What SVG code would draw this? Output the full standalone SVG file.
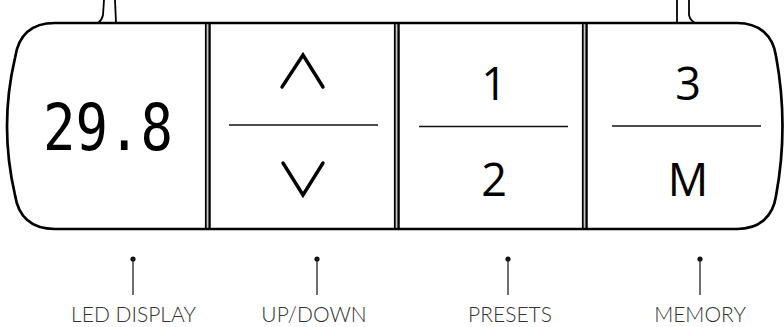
<svg xmlns="http://www.w3.org/2000/svg" width="784" height="327" viewBox="0 0 784 327">
<style>
.outline{fill:none;stroke:#000;stroke-width:2.7}
.cable{fill:none;stroke:#000;stroke-width:1.8}
.div-b{stroke:#000}
.gap{fill:#c8c8c8}
.sep{stroke:#111;stroke-width:1.3}
.chev{fill:none;stroke:#000;stroke-width:3.4;stroke-linecap:round;stroke-linejoin:miter}
.key{font-family:"Open Sans","Noto Sans",sans-serif;font-size:45px;fill:#000;text-anchor:middle}
.led{font-family:"DejaVu Sans Mono",monospace;font-size:54px;fill:#000}
.lab{font-family:Lato,"Liberation Sans",sans-serif;font-weight:300;font-size:21px;fill:#333;text-anchor:middle}
.lead{stroke:#222;stroke-width:1.3}
.dot{fill:#111}
</style>
<rect width="784" height="327" fill="#fff"/>
<g id="cables">
<path class="cable" d="M104 0 L103 15 Q102 20 98 23"/>
<line class="cable" x1="115" y1="0" x2="116" y2="23"/>
<line class="cable" x1="677" y1="0" x2="677" y2="23"/>
<path class="cable" d="M689 0 L689 15 Q690 20 695 23"/>
</g>
<g id="led-display">
<path class="outline" d="M205 23 L55 23 C30 23 18 37 15 58 Q-1 126 15 195 C18 215 30 229 55 229 L205 229"/>
<text class="led" transform="translate(43 150) scale(1 1.19)">29.8</text>
</g>
<g id="dividers">
<rect class="gap" x="206.5" y="23" width="2.5" height="206"/>
<line class="div-b" x1="205.8" y1="23" x2="205.8" y2="229" stroke-width="1.8"/>
<line class="div-b" x1="209.6" y1="23" x2="209.6" y2="229" stroke-width="2.3"/>
<rect class="gap" x="395.5" y="23" width="2.5" height="206"/>
<line class="div-b" x1="394.8" y1="23" x2="394.8" y2="229" stroke-width="1.8"/>
<line class="div-b" x1="398.6" y1="23" x2="398.6" y2="229" stroke-width="2.3"/>
<rect class="gap" x="583.5" y="23" width="2.5" height="206"/>
<line class="div-b" x1="582.8" y1="23" x2="582.8" y2="229" stroke-width="1.8"/>
<line class="div-b" x1="586.6" y1="23" x2="586.6" y2="229" stroke-width="2.3"/>
</g>
<g id="up-down">
<line class="outline" x1="205" y1="23" x2="395" y2="23"/>
<line class="outline" x1="205" y1="229" x2="395" y2="229"/>
<polyline class="chev" points="282,87 303,55 323,87"/>
<line class="sep" x1="229" y1="125" x2="378" y2="125"/>
<polyline class="chev" points="283,163 303,195 323,163"/>
</g>
<g id="presets">
<line class="outline" x1="395" y1="23" x2="583" y2="23"/>
<line class="outline" x1="395" y1="229" x2="583" y2="229"/>
<text class="key" x="494" y="100">1</text>
<line class="sep" x1="419" y1="126.5" x2="568" y2="126.5"/>
<text class="key" x="494" y="196">2</text>
</g>
<g id="memory">
<path class="outline" d="M583 23 L737 23 C760 23 773 36 776 56 Q789 126 776 196 C773 216 760 229 737 229 L583 229"/>
<text class="key" x="688" y="100">3</text>
<line class="sep" x1="612" y1="126" x2="761" y2="126"/>
<text class="key" x="688" y="196">M</text>
</g>
<g id="connectors">
<circle class="dot" cx="133" cy="259" r="2.6"/>
<line class="lead" x1="133" y1="259" x2="133" y2="295"/>
<circle class="dot" cx="317" cy="259" r="2.6"/>
<line class="lead" x1="317" y1="259" x2="317" y2="295"/>
<circle class="dot" cx="508" cy="259" r="2.6"/>
<line class="lead" x1="508" y1="259" x2="508" y2="295"/>
<circle class="dot" cx="700" cy="259" r="2.6"/>
<line class="lead" x1="700" y1="259" x2="700" y2="295"/>
</g>
<g id="labels">
<text class="lab" x="133.5" y="322">LED DISPLAY</text>
<text class="lab" x="314" y="322">UP/DOWN</text>
<text class="lab" x="510" y="322">PRESETS</text>
<text class="lab" x="700" y="322">MEMORY</text>
</g>
</svg>
